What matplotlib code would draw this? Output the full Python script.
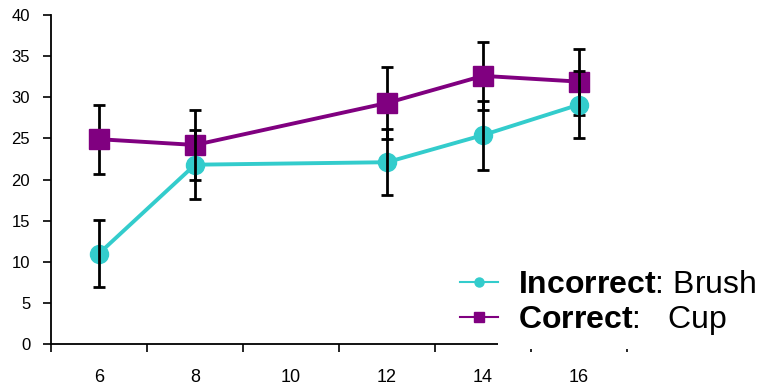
import matplotlib
matplotlib.use("Agg")
import matplotlib.pyplot as plt
from matplotlib.patches import Rectangle
import numpy as np

plt.rcParams['font.family'] = ['Liberation Sans', 'DejaVu Sans']
plt.rcParams['mathtext.fontset'] = 'custom'
plt.rcParams['mathtext.rm'] = 'Liberation Sans'
plt.rcParams['mathtext.bf'] = 'Liberation Sans:bold'

categories = ['6', '8', '10', '12', '14', '16']
incorrect_x = ['6', '8', '12', '14', '16']
incorrect_vals = [11.0, 21.8, 22.1, 25.4, 29.1]
incorrect_err = [4.1, 4.2, 4.0, 4.2, 4.1]
correct_x = ['6', '8', '12', '14', '16']
correct_vals = [24.9, 24.2, 29.3, 32.6, 31.9]
correct_err = [4.2, 4.2, 4.4, 4.1, 4.0]
yticks = [0, 5, 10, 15, 20, 25, 30, 35, 40]

cyan = '#33CCCC'
purple = '#800080'

fig = plt.figure(figsize=(7.59, 3.85), dpi=100)
ax = fig.add_axes([51/759, 1 - 344/385, (627 - 51)/759, (344 - 15)/385])

pos = {c: i for i, c in enumerate(categories)}
xi = [pos[c] for c in incorrect_x]
xc = [pos[c] for c in correct_x]

# Correct (purple): error bars beneath markers
ax.errorbar(xc, correct_vals, yerr=correct_err, fmt='none', ecolor='black',
            elinewidth=2, capsize=4.5, capthick=2, zorder=2)
ax.plot(xc, correct_vals, color=purple, lw=2.8, marker='s', ms=14,
        zorder=3, label=r'$\mathbf{Correct}$:   Cup')
# Incorrect (cyan): error bars over markers
ax.plot(xi, incorrect_vals, color=cyan, lw=2.8, marker='o', ms=13,
        zorder=3, label=r'$\mathbf{Incorrect}$: Brush')
ax.errorbar(xi, incorrect_vals, yerr=incorrect_err, fmt='none', ecolor='black',
            elinewidth=2, capsize=4.5, capthick=2, zorder=4)

ax.set_xlim(-0.5, len(categories) - 0.5)
ax.set_ylim(0, 40)
ax.set_yticks(yticks)
ax.set_yticklabels([str(v) for v in yticks], fontsize=12)
ax.set_xticks(range(len(categories)))
ax.set_xticklabels(categories, fontsize=13)
ax.set_xticks(np.arange(-0.5, len(categories), 1.0), minor=True)
ax.tick_params(axis='x', which='major', length=0, pad=18)
ax.tick_params(axis='x', which='minor', length=6, width=1.2, direction='out')
ax.tick_params(axis='y', length=6, width=1.2, direction='out', pad=9)
for s in ['top', 'right']:
    ax.spines[s].set_visible(False)
for s in ['left', 'bottom']:
    ax.spines[s].set_linewidth(1.3)
ax.spines['bottom'].set_bounds(-0.5, -0.5 + (498 - 51) / 96)

# white block covering the axis under the legend text
cover = Rectangle((498/759, 1 - 348.5/385), (759 - 498)/759, (348.5 - 262)/385,
                  transform=fig.transFigure, facecolor='white', edgecolor='none',
                  zorder=5, clip_on=False)
ax.add_patch(cover)

h, l = ax.get_legend_handles_labels()
leg = ax.legend([h[1], h[0]], [l[1], l[0]], loc='upper left',
                bbox_to_anchor=(460/759, 1 - 270/385), bbox_transform=fig.transFigure,
                frameon=False, fontsize=23, handlelength=1.2, handletextpad=0.62,
                labelspacing=0.12, borderpad=0, borderaxespad=0, markerscale=0.5)
for line in leg.get_lines():
    line.set_linewidth(1.5)
leg.set_zorder(6)

fig.savefig('out.png', dpi=100)
